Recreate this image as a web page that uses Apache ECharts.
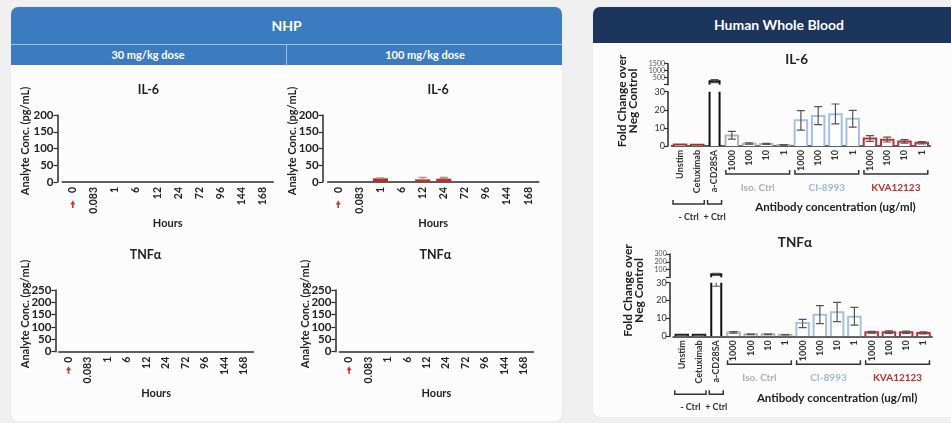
<!DOCTYPE html>
<html>
<head>
<meta charset="utf-8">
<script src="https://cdn.jsdelivr.net/npm/echarts@6/dist/echarts.min.js"></script>
<style>
  html, body { margin:0; padding:0; width:951px; height:423px; overflow:hidden; background:#f0f0f0; font-family: Lato, "Open Sans", sans-serif; }
  .card { position:absolute; background:#fcfcfc; border-radius:7px; overflow:hidden; box-shadow:0 0 2px rgba(0,0,0,0.08); }
  #left { left:11px; top:7px; width:551px; height:414px; }
  #right { left:593px; top:7px; width:372px; height:410px; }
  .hdr { position:absolute; left:0; right:0; color:#fff; font-weight:bold; text-align:center; }
  #left .h1 { top:0; height:37px; line-height:37px; background:#3b7cc0; font-size:14px; }
  #left .sep { position:absolute; top:37px; left:0; right:0; height:1px; background:#9fc0e4; }
  #left .h2 { top:38px; height:20px; line-height:20px; background:#3b7cc0; font-size:11px; }
  #left .h2 span { position:absolute; top:0; width:274px; }
  #left .h2 .a { left:0; }
  #left .h2 .b { left:275px; width:276px; border-left:1px solid #9fc0e4; }
  #right .h1 { top:0; height:36px; line-height:36px; background:#1c355d; font-size:14px; }
  #c { position:absolute; left:0; top:0; width:951px; height:423px; }
</style>
</head>
<body>
<div class="card" id="left">
  <div class="hdr h1">NHP</div>
  <div class="sep"></div>
  <div class="hdr h2"><span class="a">30 mg/kg dose</span><span class="b">100 mg/kg dose</span></div>
</div>
<div class="card" id="right">
  <div class="hdr h1">Human Whole Blood</div>
</div>
<div id="c"></div>
<script>
// ---------------- DATA ----------------
// NHP (left): time points in hours
const hours = ['0', '0.083', '1', '6', '12', '24', '72', '96', '144', '168'];
const il6_30mg      = [0, 0, 0, 0, 0, 0, 0, 0, 0, 0];
const il6_30mgErr   = [0, 0, 0, 0, 0, 0, 0, 0, 0, 0];
const il6_100mg     = [0, 0, 11, 0, 8, 10, 0, 0, 0, 0];
const il6_100mgErr  = [0, 0, 1, 0, 6, 4, 0, 0, 0, 0];
const tnf_30mg      = [0, 0, 0, 0, 0, 0, 0, 0, 0, 0];
const tnf_30mgErr   = [0, 0, 0, 0, 0, 0, 0, 0, 0, 0];
const tnf_100mg     = [0, 0, 0, 0, 0, 0, 0, 0, 0, 0];
const tnf_100mgErr  = [0, 0, 0, 0, 0, 0, 0, 0, 0, 0];
const il6AxisMax = 200, tnfAxisMax = 250, nhpTickStep = 50;

// Human whole blood (right): fold change over negative control
const conditions = ['Unstim', 'Cetuximab', 'a-CD28SA', '1000', '100', '10', '1', '1000', '100', '10', '1', '1000', '100', '10', '1'];
const il6Fold = [0.8, 0.7, 250, 5.8, 1.3, 1.1, 0.6, 14.2, 16.6, 17.6, 15.1, 4.2, 3.5, 2.5, 1.8];
const il6Low  = [0.8, 0.7, 150, 3.8, 1.0, 0.9, 0.5, 8.8, 11.8, 12.2, 10.4, 2.6, 2.2, 1.6, 1.1];
const il6High = [0.8, 0.7, 370, 8.1, 1.8, 1.4, 0.8, 19.5, 21.7, 23.2, 19.7, 5.7, 4.9, 3.5, 2.4];
const tnfFold = [0.8, 0.8, 40, 2.1, 1.1, 1.1, 0.9, 7.4, 12.0, 13.4, 11.0, 2.2, 2.2, 2.2, 1.9];
const tnfLow  = [0.8, 0.8, 28, 1.7, 0.9, 0.9, 0.8, 4.9, 7.1, 8.2, 6.2, 1.7, 1.6, 1.6, 1.4];
const tnfHigh = [0.8, 0.8, 52, 2.6, 1.3, 1.3, 1.0, 9.5, 17.2, 19.0, 16.2, 2.8, 3.0, 2.9, 2.5];
const lowSegMax = 30, lowSegStep = 10;
const il6TopMax = 1500, il6TopStep = 500;
const tnfTopMax = 300, tnfTopStep = 100;
const groups = [
  { label: 'Iso. Ctrl', from: 3, to: 6, key: 'iso' },
  { label: 'CI-8993',   from: 7, to: 10, key: 'ci' },
  { label: 'KVA12123',  from: 11, to: 14, key: 'kva' }
];
const ctrlGroups = [
  { label: '- Ctrl', from: 0, to: 1 },
  { label: '+ Ctrl', from: 2, to: 2 }
];
const xTitleRight = 'Antibody concentration (ug/ml)';

// ---------------- STYLE ----------------
const FONT = 'Lato, "Open Sans", sans-serif';
const AX = '#2a2a2a';
const groupColors = { iso: '#b3b3b3', ci: '#a6bfe6', kva: '#c4302b' };
const groupTextColors = { iso: '#b0b0b0', ci: '#9cb7e2', kva: '#c62f2a' };
function barColor(i, which) {
  if (i < 2) return which === 'il6' ? '#a8302a' : '#222';
  if (i === 2) return '#111';
  for (const g of groups) if (i >= g.from && i <= g.to) return groupColors[g.key];
  return '#333';
}

const chart = echarts.init(document.getElementById('c'), null, { renderer: 'canvas', width: 951, height: 423 });

const grids = [
  { left: 62.2, top: 115, width: 211, height: 67 },      // 0 IL-6 30
  { left: 327.7, top: 115, width: 211, height: 67 },     // 1 IL-6 100
  { left: 58.8, top: 290, width: 194.7, height: 61.7 },  // 2 TNF 30
  { left: 339.4, top: 290, width: 194, height: 61.7 },   // 3 TNF 100
  { left: 671.4, top: 63.7, width: 259, height: 21 },    // 4 IL-6 top seg
  { left: 671.4, top: 91.7, width: 259, height: 54.3 },  // 5 IL-6 low seg
  { left: 673.1, top: 254, width: 259, height: 23.5 },   // 6 TNF top seg
  { left: 673.1, top: 282.7, width: 259, height: 53.6 }  // 7 TNF low seg
];

function leftX(gi, gap) {
  return {
    type: 'category', gridIndex: gi, data: hours,
    axisLine: { lineStyle: { color: AX, width: 1.5 } },
    axisTick: { alignWithLabel: true, length: 3, lineStyle: { color: AX, width: 1 } },
    axisLabel: { rotate: 90, interval: 0, margin: 5, fontSize: 10.5, fontWeight: 'bold', color: '#222', fontFamily: FONT },
    name: 'Hours', nameLocation: 'middle', nameGap: gap,
    nameTextStyle: { fontSize: 11, fontWeight: 'bold', color: '#222', fontFamily: FONT }
  };
}
function leftY(gi, max, off) {
  return {
    type: 'value', gridIndex: gi, min: 0, max: max, interval: nhpTickStep, offset: off,
    axisLine: { show: true, lineStyle: { color: AX, width: 1.5 } },
    axisTick: { show: true, length: 4, lineStyle: { color: AX, width: 1.2 } },
    splitLine: { show: false },
    axisLabel: { margin: 4, fontSize: 11.5, fontWeight: 'bold', color: '#222', fontFamily: FONT }
  };
}
function rightX(gi, show) {
  return {
    type: 'category', gridIndex: gi, data: conditions, show: show,
    axisLine: { lineStyle: { color: AX, width: 1.5 } },
    axisTick: { alignWithLabel: true, length: 3, lineStyle: { color: AX } },
    axisLabel: { rotate: 90, interval: 0, margin: 4, fontSize: 9, fontWeight: 'bold', color: '#333', fontFamily: FONT }
  };
}
function rightY(gi, max, step, fs, col) {
  return {
    type: 'value', gridIndex: gi, min: 0, max: max, interval: step, offset: 3.4,
    axisLine: { show: true, lineStyle: { color: AX, width: 1.5 } },
    axisTick: { show: true, length: 4, lineStyle: { color: AX, width: 1.2 } },
    splitLine: { show: false },
    axisLabel: { margin: 3, fontSize: fs, lineHeight: fs, color: col, fontFamily: FONT, hideOverlap: false,
      formatter: v => (max > lowSegMax && v === 0) ? '' : String(v) }
  };
}

// ---- render helpers (all positions come from the axes via api.coord) ----
function errRender(cap, color) {
  return function (params, api) {
    const i = api.value(0), lo = api.value(1), hi = api.value(2);
    if (!(hi > lo)) return;
    const p0 = api.coord([i, lo]), p1 = api.coord([i, hi]);
    const st = { stroke: color, lineWidth: 1.2 };
    return { type: 'group', children: [
      { type: 'line', shape: { x1: p0[0], y1: p0[1], x2: p1[0], y2: p1[1] }, style: st },
      { type: 'line', shape: { x1: p0[0] - cap, y1: p0[1], x2: p0[0] + cap, y2: p0[1] }, style: st },
      { type: 'line', shape: { x1: p1[0] - cap, y1: p1[1], x2: p1[0] + cap, y2: p1[1] }, style: st }
    ]};
  };
}
function hollowBarRender(which) {
  return function (params, api) {
    const i = api.value(0), v = api.value(1);
    if (v == null || isNaN(v)) return;
    const b = api.coord([i, 0]), t = api.coord([i, v]);
    const w = i === 2 ? 10 : 12.5;
    const x0 = b[0] - w / 2, x1 = b[0] + w / 2;
    const c = barColor(i, which);
    return { type: 'group', children: [
      { type: 'rect', shape: { x: x0, y: t[1], width: w, height: b[1] - t[1] }, style: { fill: '#ffffff' } },
      { type: 'polyline', shape: { points: [[x0, b[1]], [x0, t[1]], [x1, t[1]], [x1, b[1]]] },
        style: { stroke: c, lineWidth: 2, fill: null } }
    ]};
  };
}
function arrowRender(off) {
  return function (params, api) {
    const p = api.coord([api.value(0), 0]);
    const x = p[0], y = p[1] + off;
    return { type: 'group', children: [
      { type: 'polygon', shape: { points: [[x, y - 3.5], [x - 2.5, y + 0.5], [x + 2.5, y + 0.5]] }, style: { fill: '#c0392b' } },
      { type: 'rect', shape: { x: x - 0.8, y: y, width: 1.6, height: 4 }, style: { fill: '#c0392b' } }
    ]};
  };
}
function bracketRender(list, lineOff, textOff, pad, colorOf, fs) {
  return function (params, api) {
    const g = list[params.dataIndex];
    const a = api.coord([g.from, 0]), b = api.coord([g.to, 0]);
    const y = a[1] + lineOff, x0 = a[0] - pad, x1 = b[0] + pad;
    return { type: 'group', children: [
      { type: 'polyline', shape: { points: [[x0, y - 4], [x0, y], [x1, y], [x1, y - 4]] },
        style: { stroke: '#333', lineWidth: 1.5, fill: null } },
      { type: 'text', style: { x: (x0 + x1) / 2, y: y + textOff, text: g.label, fill: colorOf(g),
        font: 'bold ' + fs + 'px ' + FONT, align: 'center', verticalAlign: 'middle' } }
    ]};
  };
}
function xTitleRender(off) {
  return function (params, api) {
    const p = api.coord([api.value(0), 0]);
    return { type: 'text', style: { x: p[0], y: p[1] + off, text: xTitleRight, fill: '#222',
      font: 'bold 11.5px ' + FONT, align: 'center', verticalAlign: 'middle' } };
  };
}

const series = [];
// left bars + errors + arrows
const nhp = [
  [il6_30mg, il6_30mgErr], [il6_100mg, il6_100mgErr], [tnf_30mg, tnf_30mgErr], [tnf_100mg, tnf_100mgErr]
];
nhp.forEach(([vals, err], gi) => {
  series.push({ type: 'bar', xAxisIndex: gi, yAxisIndex: gi, data: vals, barWidth: 15,
    itemStyle: { color: '#b3322b', borderWidth: 0 }, silent: true });
  series.push({ type: 'custom', xAxisIndex: gi, yAxisIndex: gi, clip: true, z: 5,
    data: vals.map((v, i) => [i, v, v + err[i]]), renderItem: errRender(4, '#b98a86') });
  series.push({ type: 'custom', xAxisIndex: gi, yAxisIndex: gi, z: 5,
    data: [[0, 0]], renderItem: arrowRender(gi < 2 ? 22 : 18) });
});
// right charts
function addRight(topGi, lowGi, fold, lo, hi, which) {
  const isTop = fold.map(v => v > lowSegMax);
  series.push({ type: 'custom', xAxisIndex: topGi, yAxisIndex: topGi, clip: true, z: 3,
    data: fold.map((v, i) => [i, isTop[i] ? v : null]), renderItem: hollowBarRender(which) });
  series.push({ type: 'custom', xAxisIndex: topGi, yAxisIndex: topGi, clip: true, z: 5,
    data: fold.map((v, i) => [i, isTop[i] ? lo[i] : null, isTop[i] ? hi[i] : null]), renderItem: errRender(4, '#555') });
  series.push({ type: 'custom', xAxisIndex: lowGi, yAxisIndex: lowGi, clip: true, z: 3,
    data: fold.map((v, i) => [i, v]), renderItem: hollowBarRender(which) });
  series.push({ type: 'custom', xAxisIndex: lowGi, yAxisIndex: lowGi, clip: true, z: 5,
    data: fold.map((v, i) => [i, lo[i], hi[i]]), renderItem: errRender(4, '#555') });
  series.push({ type: 'custom', xAxisIndex: lowGi, yAxisIndex: lowGi, z: 5,
    data: groups.map(g => [g.from, g.to]),
    renderItem: bracketRender(groups, 28, 13.5, 6, g => groupTextColors[g.key], 10) });
  series.push({ type: 'custom', xAxisIndex: lowGi, yAxisIndex: lowGi, z: 5,
    data: ctrlGroups.map(g => [g.from, g.to]),
    renderItem: bracketRender(ctrlGroups, 58, 13, 7, g => '#333', 9) });
  series.push({ type: 'custom', xAxisIndex: lowGi, yAxisIndex: lowGi, z: 5,
    data: [[9, 0]], renderItem: xTitleRender(61.5) });
}
addRight(4, 5, il6Fold, il6Low, il6High, 'il6');
addRight(6, 7, tnfFold, tnfLow, tnfHigh, 'tnf');

function txt(x, y, text, size, opts) {
  return Object.assign({ type: 'text', x: x, y: y, silent: true,
    style: { text: text, fill: '#222', font: 'bold ' + size + 'px ' + FONT, align: 'center', verticalAlign: 'middle', lineHeight: 11 } }, opts || {});
}
const R = Math.PI / 2;
const graphic = [
  txt(148.4, 90, 'IL-6', 12.5), txt(438.2, 90, 'IL-6', 12.5),
  txt(145.5, 255, 'TNFα', 12.5), txt(435.3, 255, 'TNFα', 12.5),
  txt(25.5, 141, 'Analyte Conc. (pg/mL)', 11, { rotation: R }),
  txt(292.7, 141, 'Analyte Conc. (pg/mL)', 11, { rotation: R }),
  txt(25.5, 314, 'Analyte Conc. (pg/mL)', 11, { rotation: R }),
  txt(305.5, 314, 'Analyte Conc. (pg/mL)', 11, { rotation: R }),
  txt(796.7, 60, 'IL-6', 13.5), txt(795, 243, 'TNFα', 13.5),
  txt(628, 101, 'Fold Change over\nNeg Control', 12, { rotation: R }),
  txt(634, 290.5, 'Fold Change over\nNeg Control', 12, { rotation: R })
];

chart.setOption({
  animation: false,
  backgroundColor: 'transparent',
  textStyle: { fontFamily: FONT },
  grid: grids,
  xAxis: [leftX(0, 28), leftX(1, 28), leftX(2, 26), leftX(3, 26),
          rightX(4, false), rightX(5, true), rightX(6, false), rightX(7, true)],
  yAxis: [leftY(0, il6AxisMax, 4.7), leftY(1, il6AxisMax, 5), leftY(2, tnfAxisMax, 3.4), leftY(3, tnfAxisMax, 4),
          rightY(4, il6TopMax, il6TopStep, 7, '#555'), rightY(5, lowSegMax, lowSegStep, 9, '#333'),
          rightY(6, tnfTopMax, tnfTopStep, 7, '#555'), rightY(7, lowSegMax, lowSegStep, 9, '#333')],
  series: series,
  graphic: graphic
});
</script>
</body>
</html>
